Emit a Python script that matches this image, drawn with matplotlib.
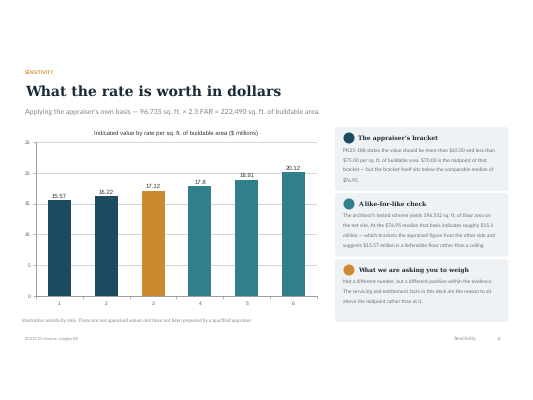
import matplotlib
matplotlib.use("Agg")
import matplotlib.pyplot as plt
from matplotlib.patches import FancyBboxPatch, Ellipse
from matplotlib.ticker import FixedLocator

plt.rcParams["text.hinting"] = "no_hinting"
plt.rcParams["text.hinting_factor"] = 1

# ---------------- data ----------------
categories = ["1", "2", "3", "4", "5", "6"]
values = [15.57, 16.22, 17.12, 17.8, 18.91, 20.12]
bar_colors = ["#1b4a61", "#1b4a61", "#cc8a2e", "#2f7f8d", "#2f7f8d", "#2f7f8d"]
y_ticks = [0, 5, 10, 15, 20, 25]

kicker = "SENSITIVITY"
title = "What the rate is worth in dollars"
subtitle = ("Applying the appraiser\u2019s own basis \u2014 96,735 sq. ft. \u00d7 2.3 FAR = "
            "222,490 sq. ft. of buildable area.")
chart_title = "Indicated value by rate per sq. ft. of buildable area ($ millions)"
note = ("Illustrative sensitivity only. These are not appraised values and have not "
        "been prepared by a qualified appraiser.")
footer_left = "20313 32 Avenue, Langley BC"
footer_section = "Sensitivity"
footer_page = "10"

card_titles = ["The appraiser\u2019s bracket", "A like-for-like check",
               "What we are asking you to weigh"]
card_icon_colors = ["#1b4a61", "#2f7f8d", "#cc8a2e"]
card_bodies = [
    ["PK25-188 states the value should be more than $65.00 and less than",
     "$75.00 per sq. ft. of buildable area. $70.00 is the midpoint of that",
     "bracket \u2014 but the bracket itself sits below the comparable median of",
     "$76.95."],
    ["The architect\u2019s tested scheme yields 196,552 sq. ft. of floor area on",
     "the net site. At the $76.95 median that basis indicates roughly $15.1",
     "million \u2014 which brackets the appraised figure from the other side and",
     "suggests $15.57 million is a defensible floor rather than a ceiling"],
    ["Not a different number, but a different position within the evidence.",
     "The servicing and entitlement facts in this deck are the reason to sit",
     "above the midpoint rather than at it."],
]

# ---------------- figure ----------------
W, H = 533, 400
fig = plt.figure(figsize=(W / 100, H / 100), dpi=100)
fig.patch.set_facecolor("white")
renderer = fig.canvas.get_renderer()


def fx(x):
    return x / W


def fy(y):
    return 1 - y / H


def fit_text(x, y, s, width_px, fs=6, **kw):
    t = fig.text(fx(x), fy(y), s, fontsize=fs, va="center", parse_math=False, **kw)
    for _ in range(3):
        bb = t.get_window_extent(renderer=renderer)
        t.set_fontsize(t.get_fontsize() * width_px / bb.width)
    return t


SANS = ["Lato", "DejaVu Sans"]
SERIF = ["DejaVu Serif"]

fit_text(25, 73, kicker, 28, family=SANS, weight="bold", color="#c9922e")
fit_text(25, 92, title, 246, family=SERIF, weight="bold", color="#1a2b38")
fit_text(25, 112, subtitle, 272, family=SANS, color="#808080")

# ---------------- chart ----------------
L, R, T, B = 36, 317, 142, 296
ax = fig.add_axes([fx(L), fy(B), (R - L) / W, (B - T) / H])
x = list(range(len(categories)))
bars = ax.bar(x, values, width=0.49, color=bar_colors, zorder=3)
ax.set_xlim(-0.5, len(categories) - 0.5)
ax.set_ylim(0, 25)
ax.set_yticks(y_ticks)
ax.set_xticks(x)
ax.set_xticklabels(categories)
ax.xaxis.set_minor_locator(FixedLocator([i - 0.5 for i in range(len(categories) + 1)]))
ax.tick_params(axis="x", which="major", length=0, pad=4, labelsize=3.4, labelcolor="#555555")
ax.tick_params(axis="x", which="minor", length=2, width=0.5, color="#999999")
ax.tick_params(axis="y", length=2, width=0.5, color="#999999", pad=2, labelsize=3.4,
               labelcolor="#555555")
for lab in ax.get_xticklabels() + ax.get_yticklabels():
    lab.set_family(["Liberation Sans"])
ax.grid(axis="y", color="#d4d4d4", linewidth=0.7, zorder=0)
for side in ["top", "right"]:
    ax.spines[side].set_visible(False)
for side in ["left", "bottom"]:
    ax.spines[side].set_color("#9a9a9a")
    ax.spines[side].set_linewidth(0.7)
ax.set_facecolor("white")
for rect, v in zip(bars, values):
    ax.annotate(f"{v:g}", (rect.get_x() + rect.get_width() / 2, v),
                xytext=(0, 0.8), textcoords="offset points", ha="center", va="bottom",
                fontsize=4.4, color="#333333", family=["Liberation Sans"])

fit_text((L + R) / 2, 133, chart_title, 169, family=["Liberation Sans"], color="#333333",
         ha="center")

# ---------------- cards ----------------
card_boxes = [(127, 189), (193, 255), (259, 320)]
cx0, cx1 = 335, 508
body_fs = None
for i, ((top, bot), head, body, col) in enumerate(
        zip(card_boxes, card_titles, card_bodies, card_icon_colors)):
    sh = FancyBboxPatch((fx(cx0 + 0.5), fy(bot + 1.5)), (cx1 - cx0) / W, (bot - top) / H,
                        boxstyle="round,pad=0,rounding_size=0.006",
                        transform=fig.transFigure, facecolor="#dde3e8", edgecolor="none",
                        alpha=0.6, zorder=1)
    fig.add_artist(sh)
    card = FancyBboxPatch((fx(cx0), fy(bot)), (cx1 - cx0) / W, (bot - top) / H,
                          boxstyle="round,pad=0,rounding_size=0.006",
                          transform=fig.transFigure, facecolor="#eef2f5", edgecolor="none",
                          zorder=2)
    fig.add_artist(card)
    hy = top + 11
    circ = Ellipse((fx(349), fy(hy)), 11 / W, 11 / H, transform=fig.transFigure,
                   facecolor=col, edgecolor="none", zorder=3)
    fig.add_artist(circ)
    head_w = [78, 66, 102][i]
    t = fit_text(358, hy, head, head_w, family=SERIF, weight="bold", color="#1e2a33")
    t.set_zorder(4)
    for j, line in enumerate(body):
        ly = hy + 11.5 + 10 * j
        if body_fs is None:
            t = fit_text(343, ly, line, 154, family=SANS, color="#6a6a6a")
            body_fs = t.get_fontsize()
        else:
            t = fig.text(fx(343), fy(ly), line, fontsize=body_fs, va="center",
                         family=SANS, color="#6a6a6a", parse_math=False)
        t.set_zorder(4)

# ---------------- footer ----------------
fit_text(22, 321, note, 246, family=SANS, style="italic", color="#8a8a8a")
fit_text(25, 339, footer_left, 58, family=SANS, color="#8a8a8a")
fit_text(454, 339, footer_section, 21, family=SANS, color="#8a8a8a")
fig.text(fx(497), fy(339), footer_page, fontsize=3.2, va="center", family=SANS,
         color="#8a8a8a")

fig.savefig("out.png", dpi=100, facecolor="white")
